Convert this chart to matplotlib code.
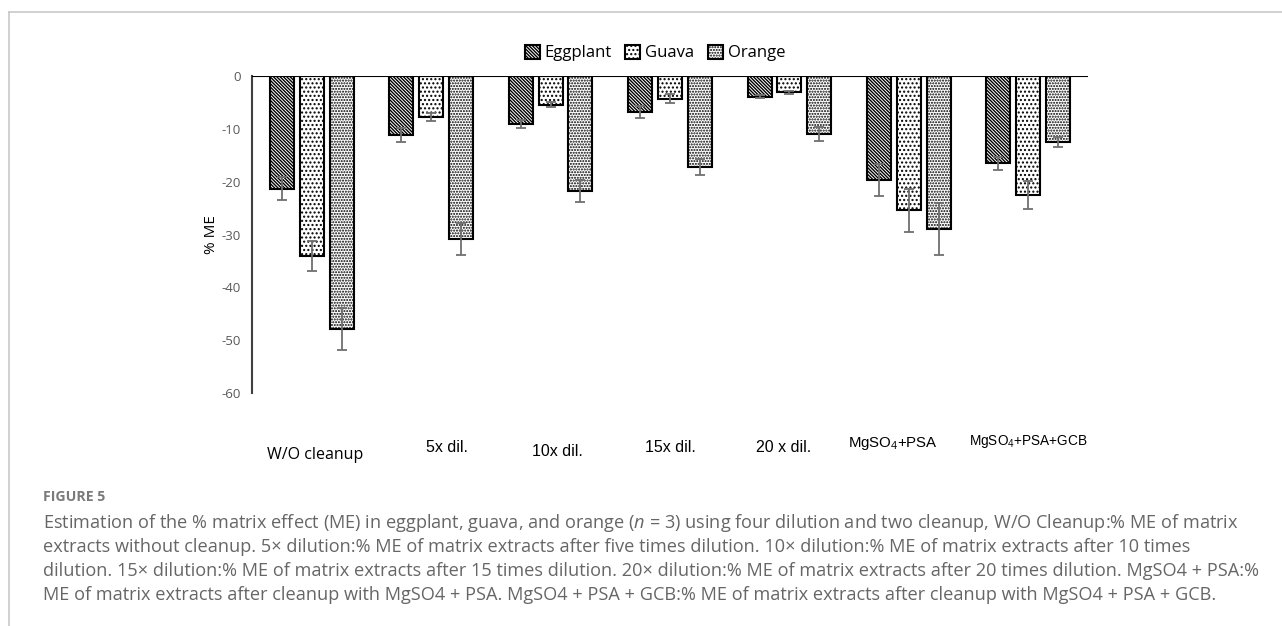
import matplotlib
matplotlib.use("Agg")
import matplotlib.pyplot as plt
import matplotlib.transforms as mtransforms
from matplotlib.lines import Line2D
import numpy as np

plt.rcParams['hatch.linewidth'] = 1.0
plt.rcParams['font.family'] = ['Open Sans', 'DejaVu Sans']
plt.rcParams['mathtext.fontset'] = 'custom'
plt.rcParams['mathtext.it'] = 'Open Sans:italic'
plt.rcParams['mathtext.rm'] = 'Open Sans'

categories = ["W/O cleanup", "5x dil.", "10x dil.", "15x dil.", "20 x dil.",
              "MgSO$_4$+PSA", "MgSO$_4$+PSA+GCB"]
series_names = ["Eggplant", "Guava", "Orange"]
eggplant = [-21.3, -11.2, -9.1, -6.8, -3.9, -19.7, -16.5]
eggplant_err = [2.2, 1.3, 0.7, 1.1, 0.3, 3.1, 1.2]
guava = [-34.1, -7.8, -5.4, -4.3, -3.1, -25.4, -22.5]
guava_err = [2.8, 0.8, 0.5, 0.9, 0.3, 4.1, 2.6]
orange = [-47.9, -30.9, -21.7, -17.3, -11.0, -29.0, -12.5]
orange_err = [4.0, 3.0, 2.1, 1.5, 1.3, 4.9, 1.0]
yticks = [0, -10, -20, -30, -40, -50, -60]

W, H = 1282, 626
fig = plt.figure(figsize=(W / 100, H / 100), dpi=100)

# page frame lines
fig.add_artist(Line2D([9 / W, 1], [1 - 12 / H, 1 - 12 / H], color='#c8c8c8', lw=1.2))
fig.add_artist(Line2D([9 / W, 9 / W], [0, 1 - 12 / H], color='#c8c8c8', lw=1.2))

ax = fig.add_axes([252 / W, 1 - 393 / H, (1088 - 252) / W, (393 - 76) / H])

x = np.arange(len(categories))
width = 0.2
offsets = [-0.25, 0.0, 0.25]
hatches = ['\\' * 10, '....', '......']
vals = [eggplant, guava, orange]
errs = [eggplant_err, guava_err, orange_err]
for name, v, e, off, h in zip(series_names, vals, errs, offsets, hatches):
    ax.bar(x + off, v, width, facecolor='white', edgecolor='black', linewidth=1.5,
           hatch=h, label=name, zorder=2)
    ax.errorbar(x + off, v, yerr=e, fmt='none', ecolor='#6f6f6f', elinewidth=1.3,
                capsize=3.5, capthick=1.3, zorder=3)

ax.set_xlim(-0.5, len(categories) - 0.5)
ax.set_ylim(-60, 0)
ax.set_yticks(yticks)
ax.set_yticklabels([str(t) for t in yticks], color='#595959', fontsize=9.5)
ax.tick_params(axis='y', length=0, pad=8)
ax.set_xticks([])
for s in ['right', 'bottom', 'top']:
    ax.spines[s].set_visible(False)
ax.spines['left'].set_color('#404040')
ax.spines['left'].set_linewidth(1.5)
ax.axhline(0, color='black', lw=1.5, zorder=4)
ax.set_ylabel('% ME', fontsize=11, color='black', labelpad=2)

# category labels (placed individually as in the original)
label_dx = [0.03, 0.13, 0.06, 0.0, -0.05, -0.13, 0.0]
label_y = [455, 448, 451, 448, 447, 444, 441]
label_fs = [11.5, 11.5, 11.5, 11.5, 11.5, 10.8, 9.8]
label_family = ['Open Sans', 'Liberation Sans', 'Liberation Sans', 'Liberation Sans',
                'Liberation Sans', 'Liberation Sans', 'Liberation Sans']
trans = mtransforms.blended_transform_factory(ax.transData, fig.transFigure)
for xi, lab, dx, yy, fs, fam in zip(x, categories, label_dx, label_y, label_fs, label_family):
    ax.text(xi + dx, 1 - yy / H, lab, transform=trans, ha='center', va='center',
            fontsize=fs, family=fam, color='black')

fig.legend(loc='center', bbox_to_anchor=(655 / W, 1 - 53 / H), ncol=3, frameon=False,
           fontsize=12, handlelength=0.9, handleheight=0.9, handletextpad=0.3,
           columnspacing=0.8)

# caption
fig.text(43 / W, 1 - 497 / H, 'FIGURE 5', fontsize=10.2, weight='bold', color='#7a7a7a',
         va='center', ha='left')
caption = [
    "Estimation of the % matrix effect (ME) in eggplant, guava, and orange ($\\it{n}$ = 3) using four dilution and two cleanup, W/O Cleanup:% ME of matrix",
    "extracts without cleanup. 5\u00d7 dilution:% ME of matrix extracts after five times dilution. 10\u00d7 dilution:% ME of matrix extracts after 10 times",
    "dilution. 15\u00d7 dilution:% ME of matrix extracts after 15 times dilution. 20\u00d7 dilution:% ME of matrix extracts after 20 times dilution. MgSO4 + PSA:%",
    "ME of matrix extracts after cleanup with MgSO4 + PSA. MgSO4 + PSA + GCB:% ME of matrix extracts after cleanup with MgSO4 + PSA + GCB.",
]
cap_y = [523, 547, 571, 595]
for line, yy in zip(caption, cap_y):
    fig.text(43 / W, 1 - yy / H, line, fontsize=13.1, color='#666666', va='center', ha='left')

fig.savefig('out.png', dpi=100)
